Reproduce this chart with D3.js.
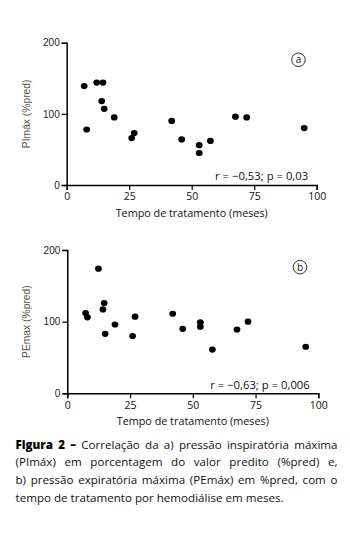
<!DOCTYPE html>
<html><head><meta charset="utf-8">
<script src="https://cdn.jsdelivr.net/npm/d3@7"></script>
<style>
body{margin:0;background:#fff;width:350px;height:536px;overflow:hidden;position:relative}
#cap{position:absolute;left:15.5px;top:435.5px;width:322px;font-family:"Open Sans",sans-serif;font-size:11.6px;line-height:17.7px;color:#111}
#cap .j{text-align:justify;text-align-last:justify}
#cap b{font-weight:800;color:#000}
</style></head><body>
<svg id="chart" width="350" height="536"></svg>
<div id="cap">
<div class="j"><b>Figura 2 –</b> Correlação da a) pressão inspiratória máxima</div>
<div class="j">(PImáx) em porcentagem do valor predito (%pred) e,</div>
<div class="j">b) pressão expiratória máxima (PEmáx) em %pred, com o</div>
<div>tempo de tratamento por hemodiálise em meses.</div>
</div>
<script>
const monthsA = [7, 8, 12, 14.5, 14, 15, 19, 26, 27, 42, 46, 53, 53, 57.5, 67.5, 72, 95];
const pimax   = [139, 78, 144, 144, 118, 107, 95, 66, 73, 90, 64, 56, 45, 62, 96, 95, 80];
const monthsB = [7.3, 8, 12.4, 14.2, 14.7, 15.1, 19, 26, 27, 42, 46, 53, 53, 57.8, 67.6, 72, 95];
const pemax   = [112, 106, 174, 117, 126, 83, 96, 80, 107, 111, 90, 99, 93, 61, 89, 100, 65];
const xTicks = [0, 25, 50, 75, 100];
const yTicks = [0, 100, 200];
const panels = [
  {x: monthsA, y: pimax, ylabel: "PImáx (%pred)", letter: "a", stat: "r = −0,53; p = 0,03",
   xr: [66.7, 316.7], yr: [185, 42.7]},
  {x: monthsB, y: pemax, ylabel: "PEmax (%pred)", letter: "b", stat: "r = −0,63; p = 0,006",
   xr: [67.3, 318.3], yr: [393.3, 250]}
];
const svg = d3.select("#chart");
panels.forEach(p => {
  const x = d3.scaleLinear().domain([0, 100]).range(p.xr);
  const y = d3.scaleLinear().domain([0, 200]).range(p.yr);
  const g = svg.append("g");
  const xa = g.append("g").attr("transform", `translate(0,${p.yr[0]})`)
    .call(d3.axisBottom(x).tickValues(xTicks).tickSize(5).tickPadding(3).tickFormat(d3.format("d")));
  const ya = g.append("g").attr("transform", `translate(${p.xr[0]},0)`)
    .call(d3.axisLeft(y).tickValues(yTicks).tickSize(5).tickPadding(2).tickFormat(d3.format("d")));
  [xa, ya].forEach(a => {
    a.select(".domain").attr("stroke", "#000").attr("stroke-width", 1.5);
    a.selectAll(".tick line").attr("stroke", "#000").attr("stroke-width", 1.2);
  });
  xa.selectAll("text").attr("font-family", "Open Sans, sans-serif").attr("font-size", 10.5).attr("fill", "#111");
  ya.selectAll("text").attr("font-family", "Liberation Sans, Arial, sans-serif").attr("font-size", 10).attr("fill", "#222");
  g.append("text").attr("x", (p.xr[0] + p.xr[1]) / 2).attr("y", p.yr[0] + 32)
    .attr("text-anchor", "middle").attr("font-family", "Open Sans, sans-serif").attr("font-size", 10.8)
    .attr("fill", "#111").text("Tempo de tratamento (meses)");
  const yc = (p.yr[0] + p.yr[1]) / 2;
  g.append("text").attr("transform", `translate(30,${yc}) rotate(-90)`)
    .attr("text-anchor", "middle").attr("font-family", "Liberation Sans, Arial, sans-serif").attr("font-size", 10.3)
    .attr("fill", "#555").text(p.ylabel);
  g.selectAll("ellipse.dot").data(p.x.map((d, i) => [d, p.y[i]])).join("ellipse")
    .attr("class", "dot").attr("cx", d => x(d[0])).attr("cy", d => y(d[1]))
    .attr("rx", 3.4).attr("ry", 3.1).attr("fill", "#000");
  const cx = x(92.7), cy = y(176);
  g.append("circle").attr("cx", cx).attr("cy", cy).attr("r", 6.8)
    .attr("fill", "none").attr("stroke", "#000").attr("stroke-width", 0.8);
  g.append("text").attr("x", cx).attr("y", cy + 3.5).attr("text-anchor", "middle")
    .attr("font-family", "Open Sans, sans-serif").attr("font-size", 10).attr("fill", "#111").text(p.letter);
  g.append("text").attr("x", p.xr[0] + (p.xr[1] - p.xr[0]) * 0.966).attr("y", y(12) + 3.8)
    .attr("text-anchor", "end").attr("font-family", "Open Sans, sans-serif").attr("font-size", 11.3)
    .attr("fill", "#111").text(p.stat);
});
</script>
</body></html>
